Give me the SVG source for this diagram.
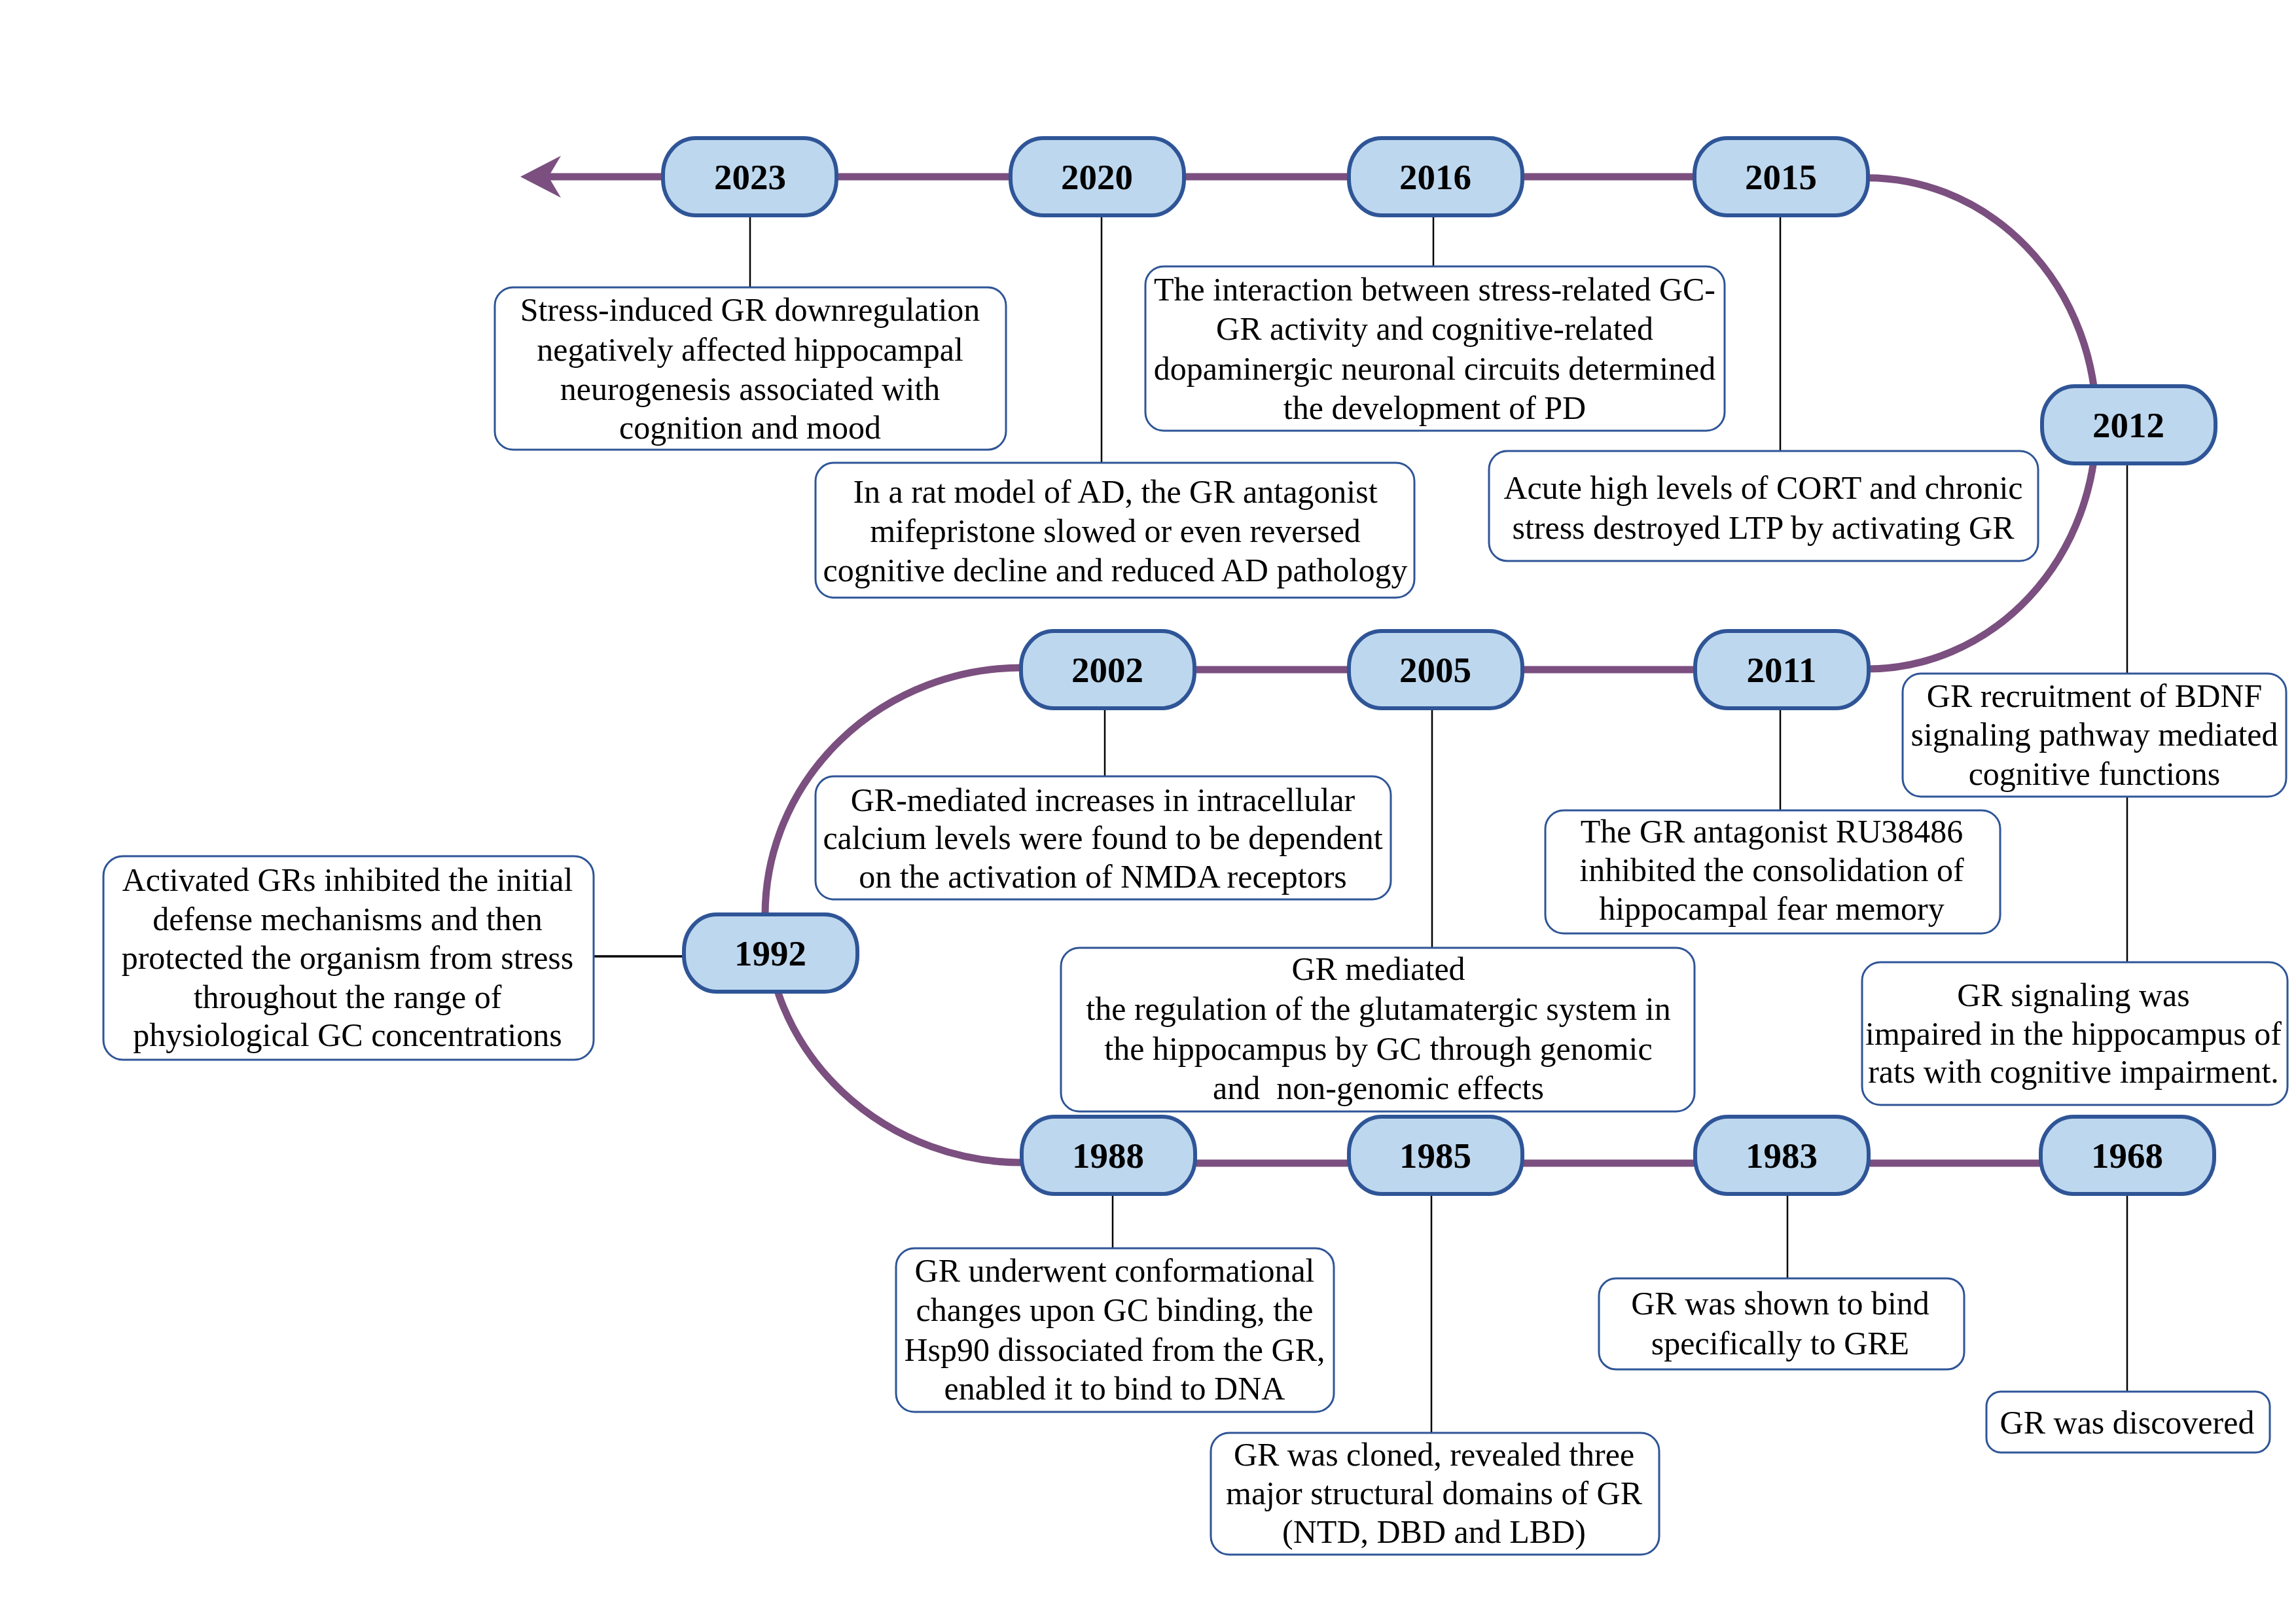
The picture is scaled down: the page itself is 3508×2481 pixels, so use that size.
<svg xmlns="http://www.w3.org/2000/svg" width="3508" height="2481" viewBox="0 0 3508 2481">
<style>
.tl{fill:none;stroke:#7B4F7F;stroke-width:11}
.cn{fill:none;stroke:#000;stroke-width:2.5}
.pill{fill:#BDD7EE;stroke:#2F5597;stroke-width:6}
.box{fill:#fff;stroke:#2F5597;stroke-width:3}
.yr{font-family:"Liberation Serif","Times New Roman",serif;font-weight:bold;font-size:55px;text-anchor:middle;fill:#000}
.tx{font-family:"Liberation Serif","Times New Roman",serif;font-size:50px;text-anchor:middle;fill:#000}
</style>
<rect width="3508" height="2481" fill="#fff"/>
<g id="connectors">
<line class="tl" x1="838" y1="270" x2="2600" y2="270"/>
<polygon points="795,270 857,238 838,270 857,302" fill="#7B4F7F"/>
<path class="tl" d="M 2840 272 A 350 375 0 0 1 3203 647 A 350 375 0 0 1 2853 1022"/>
<line class="tl" x1="1600" y1="1023" x2="2800" y2="1023"/>
<path class="tl" d="M 1562 1020 A 393 378 0 0 0 1169 1397 A 393 378 0 0 0 1570 1776"/>
<line class="tl" x1="1600" y1="1777" x2="3300" y2="1777"/>
<line class="cn" x1="1146" y1="331" x2="1146" y2="439"/>
<line class="cn" x1="1683" y1="331" x2="1683" y2="707"/>
<line class="cn" x1="2190" y1="331" x2="2190" y2="407"/>
<line class="cn" x1="2720" y1="331" x2="2720" y2="689"/>
<line class="cn" x1="3250" y1="709" x2="3250" y2="1029"/>
<line class="cn" x1="3250" y1="1217" x2="3250" y2="1470"/>
<line class="cn" x1="1688" y1="1082" x2="1688" y2="1186"/>
<line class="cn" x1="2188" y1="1082" x2="2188" y2="1447"/>
<line class="cn" x1="2720" y1="1082" x2="2720" y2="1237"/>
<line class="cn" x1="907" y1="1461" x2="1045" y2="1461" style="stroke-width:3.5"/>
<line class="cn" x1="1700" y1="1824" x2="1700" y2="1907"/>
<line class="cn" x1="2187" y1="1824" x2="2187" y2="2189"/>
<line class="cn" x1="2731" y1="1824" x2="2731" y2="1953"/>
<line class="cn" x1="3250" y1="1824" x2="3250" y2="2126"/>
</g>
<g id="box2023"><rect class="box" x="756" y="439" width="781" height="248" rx="28"/>
<text class="tx" x="1146" y="490">Stress-induced GR downregulation</text>
<text class="tx" x="1146" y="551">negatively affected hippocampal</text>
<text class="tx" x="1146" y="611">neurogenesis associated with</text>
<text class="tx" x="1146" y="670">cognition and mood</text></g>
<g id="box2020"><rect class="box" x="1246" y="707" width="915" height="206" rx="28"/>
<text class="tx" x="1704" y="768">In a rat model of AD, the GR antagonist</text>
<text class="tx" x="1704" y="828">mifepristone slowed or even reversed</text>
<text class="tx" x="1704" y="888">cognitive decline and reduced AD pathology</text></g>
<g id="box2016"><rect class="box" x="1750" y="407" width="885" height="251" rx="28"/>
<text class="tx" x="2192" y="459">The interaction between stress-related GC-</text>
<text class="tx" x="2192" y="519">GR activity and cognitive-related</text>
<text class="tx" x="2192" y="580">dopaminergic neuronal circuits determined</text>
<text class="tx" x="2192" y="640">the development of PD</text></g>
<g id="box2015"><rect class="box" x="2275" y="689" width="839" height="168" rx="28"/>
<text class="tx" x="2694" y="762">Acute high levels of CORT and chronic</text>
<text class="tx" x="2694" y="823">stress destroyed LTP by activating GR</text></g>
<g id="box2012a"><rect class="box" x="2907" y="1029" width="586" height="188" rx="28"/>
<text class="tx" x="3200" y="1080">GR recruitment of BDNF</text>
<text class="tx" x="3200" y="1139">signaling pathway mediated</text>
<text class="tx" x="3200" y="1199">cognitive functions</text></g>
<g id="box2012b"><rect class="box" x="2845" y="1470" width="650" height="218" rx="28"/>
<text class="tx" x="3168" y="1537">GR signaling was</text>
<text class="tx" x="3168" y="1596">impaired in the hippocampus of</text>
<text class="tx" x="3168" y="1654">rats with cognitive impairment.</text></g>
<g id="box2002"><rect class="box" x="1246" y="1186" width="879" height="188" rx="28"/>
<text class="tx" x="1685" y="1239">GR-mediated increases in intracellular</text>
<text class="tx" x="1685" y="1297">calcium levels were found to be dependent</text>
<text class="tx" x="1685" y="1356">on the activation of NMDA receptors</text></g>
<g id="box2011"><rect class="box" x="2361" y="1238" width="695" height="188" rx="28"/>
<text class="tx" x="2707" y="1287">The GR antagonist RU38486</text>
<text class="tx" x="2707" y="1346">inhibited the consolidation of</text>
<text class="tx" x="2707" y="1405">hippocampal fear memory</text></g>
<g id="box2005"><rect class="box" x="1621" y="1448" width="968" height="250" rx="28"/>
<text class="tx" x="2106" y="1497">GR mediated</text>
<text class="tx" x="2106" y="1558">the regulation of the glutamatergic system in</text>
<text class="tx" x="2106" y="1619">the hippocampus by GC through genomic</text>
<text class="tx" x="2106" y="1679" xml:space="preserve">and  non-genomic effects</text></g>
<g id="box1992"><rect class="box" x="158" y="1308" width="749" height="311" rx="30"/>
<text class="tx" x="531" y="1361">Activated GRs inhibited the initial</text>
<text class="tx" x="531" y="1421">defense mechanisms and then</text>
<text class="tx" x="531" y="1480">protected the organism from stress</text>
<text class="tx" x="531" y="1540">throughout the range of</text>
<text class="tx" x="531" y="1598">physiological GC concentrations</text></g>
<g id="box1988"><rect class="box" x="1369" y="1907" width="669" height="250" rx="28"/>
<text class="tx" x="1703" y="1958">GR underwent conformational</text>
<text class="tx" x="1703" y="2018">changes upon GC binding, the</text>
<text class="tx" x="1703" y="2079">Hsp90 dissociated from the GR,</text>
<text class="tx" x="1703" y="2138">enabled it to bind to DNA</text></g>
<g id="box1985"><rect class="box" x="1850" y="2189" width="685" height="186" rx="28"/>
<text class="tx" x="2191" y="2239">GR was cloned, revealed three</text>
<text class="tx" x="2191" y="2298">major structural domains of GR</text>
<text class="tx" x="2191" y="2357">(NTD, DBD and LBD)</text></g>
<g id="box1983"><rect class="box" x="2443" y="1953" width="558" height="139" rx="26"/>
<text class="tx" x="2720" y="2008">GR was shown to bind</text>
<text class="tx" x="2720" y="2069">specifically to GRE</text></g>
<g id="box1968"><rect class="box" x="3035" y="2126" width="433" height="93" rx="22"/>
<text class="tx" x="3250" y="2190">GR was discovered</text></g>
<g id="y2023"><rect class="pill" x="1013" y="211" width="265" height="118" rx="50" ry="55"/><text class="yr" x="1146" y="289">2023</text></g>
<g id="y2020"><rect class="pill" x="1544" y="211" width="265" height="118" rx="50" ry="55"/><text class="yr" x="1676" y="289">2020</text></g>
<g id="y2016"><rect class="pill" x="2061" y="211" width="265" height="118" rx="50" ry="55"/><text class="yr" x="2193" y="289">2016</text></g>
<g id="y2015"><rect class="pill" x="2589" y="211" width="265" height="118" rx="50" ry="55"/><text class="yr" x="2721" y="289">2015</text></g>
<g id="y2012"><rect class="pill" x="3120" y="590" width="265" height="118" rx="50" ry="55"/><text class="yr" x="3252" y="668">2012</text></g>
<g id="y2011"><rect class="pill" x="2590" y="964" width="265" height="118" rx="50" ry="55"/><text class="yr" x="2722" y="1042">2011</text></g>
<g id="y2005"><rect class="pill" x="2061" y="964" width="265" height="118" rx="50" ry="55"/><text class="yr" x="2193" y="1042">2005</text></g>
<g id="y2002"><rect class="pill" x="1560" y="964" width="265" height="118" rx="50" ry="55"/><text class="yr" x="1692" y="1042">2002</text></g>
<g id="y1992"><rect class="pill" x="1045" y="1397" width="265" height="118" rx="50" ry="55"/><text class="yr" x="1177" y="1475">1992</text></g>
<g id="y1988"><rect class="pill" x="1561" y="1706" width="265" height="118" rx="50" ry="55"/><text class="yr" x="1693" y="1784">1988</text></g>
<g id="y1985"><rect class="pill" x="2061" y="1706" width="265" height="118" rx="50" ry="55"/><text class="yr" x="2193" y="1784">1985</text></g>
<g id="y1983"><rect class="pill" x="2590" y="1706" width="265" height="118" rx="50" ry="55"/><text class="yr" x="2722" y="1784">1983</text></g>
<g id="y1968"><rect class="pill" x="3118" y="1706" width="265" height="118" rx="50" ry="55"/><text class="yr" x="3250" y="1784">1968</text></g>
</svg>
